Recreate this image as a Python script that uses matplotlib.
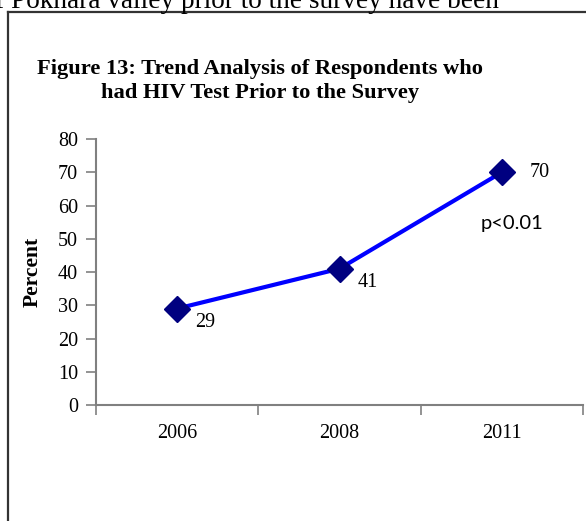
import matplotlib
matplotlib.use("Agg")
import matplotlib.pyplot as plt
from matplotlib.lines import Line2D

categories = ["2006", "2008", "2011"]
values = [29, 41, 70]
yticks = [0, 10, 20, 30, 40, 50, 60, 70, 80]
title = "Figure 13: Trend Analysis of Respondents who\nhad HIV Test Prior to the Survey"
ylabel = "Percent"
note = "p<0.01"
header_text = "f Pokhara valley prior to the survey have been"

W, H = 586, 521
fig = plt.figure(figsize=(W / 100, H / 100), dpi=100)
serif = "Liberation Serif"

ax = fig.add_axes([96 / W, 1 - 405 / H, (583 - 96) / W, (405 - 139) / H])
x = list(range(len(categories)))
ax.plot(x, values, color="#0000FF", lw=3.0, zorder=2)
ax.plot(x, values, ls="none", marker="D", ms=13, color="#000080", zorder=3)

ax.set_xlim(-0.5, len(categories) - 0.5)
ax.set_ylim(0, 80)
ax.set_yticks(yticks)
ax.set_yticklabels([str(t) for t in yticks], fontfamily=serif, fontsize=14.5)
ax.set_xticks([i - 0.5 for i in range(len(categories) + 1)])
ax.set_xticklabels([])
ax.set_xticks(x, minor=True)
ax.set_xticklabels(categories, minor=True, fontfamily=serif, fontsize=14.5)
ax.tick_params(axis="x", which="minor", length=0, pad=14)
ax.tick_params(axis="x", which="major", length=7, width=1.2, color="#808080", direction="out")
ax.tick_params(axis="y", length=7, width=1.2, color="#808080", direction="out", pad=6)
for s in ["top", "right"]:
    ax.spines[s].set_visible(False)
for s in ["left", "bottom"]:
    ax.spines[s].set_color("#808080")
    ax.spines[s].set_linewidth(1.5)

# data labels
offsets = [(20, -10), (20, -10), (20, 0)]
for xi, v, off in zip(x, values, offsets):
    ax.annotate(str(v), (xi, v), xytext=off, textcoords="offset points",
                ha="center" if off[1] else "left", va="center",
                fontfamily=serif, fontsize=14.5)
ax.text(2.06, 54.7, note, ha="center", va="center", fontfamily="Lato", fontsize=14.5)

fig.text(33 / W, 1 - 272 / H, ylabel, rotation=90, ha="center", va="center",
         fontfamily=serif, fontweight="bold", fontsize=15.5)
fig.text(260 / W, 1 - 81 / H, title, ha="center", va="center", fontfamily=serif,
         fontweight="bold", fontsize=16.2, linespacing=1.32)

# frame
fig.add_artist(Line2D([8 / W, 8 / W], [0, 1 - 12 / H], color="#333333", lw=1.6,
                      transform=fig.transFigure))
fig.add_artist(Line2D([8 / W, 1], [1 - 12 / H, 1 - 12 / H], color="#333333", lw=1.6,
                      transform=fig.transFigure))

# clipped header text from page
fig.text(-5 / W, 1 - 8 / H, header_text, ha="left", va="baseline", fontfamily=serif,
         fontsize=19.6)

fig.savefig("out.png", dpi=100)
